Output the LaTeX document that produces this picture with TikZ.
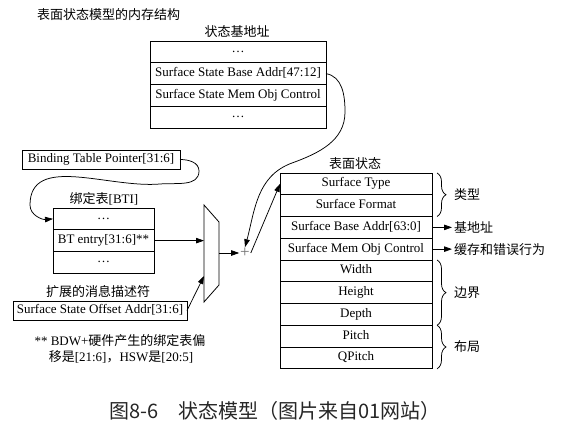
\documentclass[tikz,border=0pt]{standalone}
\usepackage{fontspec}
\setmainfont{Liberation Serif}
\newfontfamily\cjk{Noto Sans CJK SC}
\usetikzlibrary{arrows.meta,decorations.pathreplacing}
\begin{document}
\begin{tikzpicture}[x=1pt,y=1pt,
  every node/.style={inner sep=0pt, outer sep=0pt},
  txt/.style={font=\fontsize{13}{15}\selectfont},
  cjktxt/.style={font=\fontsize{13}{15}\selectfont\cjk},
  cell/.style={draw, line width=0.8pt, txt, anchor=center, minimum height=21.75pt, text height=9pt, text depth=3pt},
  dotcell/.style={draw, line width=0.8pt, txt, anchor=center, minimum height=21.75pt},
  box/.style={draw, line width=0.8pt, txt, minimum height=19pt, text height=9pt, text depth=3pt},
  arr/.style={line width=0.75pt, -{Triangle[length=8pt,width=5.5pt]}},
  brc/.style={line width=0.75pt, decorate, decoration={brace, amplitude=9pt}}
]
\useasboundingbox (0,0) rectangle (561,-428);

% main title
\node[cjktxt, anchor=west] (maintitle) at (37,-15) {表面状态模型的内存结构};

% state base address table
\node[cjktxt] (sbtitle) at (237,-32) {状态基地址};
\node[dotcell, minimum width=176pt] (sb1) at (238,-51.875) {\ldots};
\node[cell, minimum width=176pt] (sb2) at (238,-73.625) {Surface State Base Addr[47:12]};
\node[cell, minimum width=176pt] (sb3) at (238,-95.375) {Surface State Mem Obj Control};
\node[dotcell, minimum width=176pt] (sb4) at (238,-117.125) {\ldots};

% binding table pointer
\node[box, minimum width=158pt] (btp) at (101,-159.5) {Binding Table Pointer[31:6]};

% binding table
\node[txt] (btititle) at (104,-199) {{\cjk 绑定表}[BTI]};
\node[dotcell, minimum width=101pt] (bt1) at (103.5,-218.875) {\ldots};
\node[cell, minimum width=101pt] (bt2) at (103.5,-240.625) {BT entry[31:6]**};
\node[dotcell, minimum width=101pt] (bt3) at (103.5,-262.375) {\ldots};

% extended message descriptor
\node[cjktxt] (emdtitle) at (98,-292) {扩展的消息描述符};
\node[box, minimum width=174pt] (off) at (100,-310.5) {Surface State Offset Addr[31:6]};

% footnote
\node[txt] (fn1) at (120,-341) {** BDW+{\cjk 硬件产生的绑定表偏}};
\node[txt] (fn2) at (121,-357) {{\cjk 移是}[21:6]{\cjk ，}HSW{\cjk 是}[20:5]};

% mux
\coordinate (m1) at (204,-205);
\coordinate (m2) at (219,-222);
\coordinate (m3) at (219,-285);
\coordinate (m4) at (204,-302);
\draw[line width=0.8pt] (m1) -- (m2) -- (m3) -- (m4) -- cycle;
\coordinate (muxin1) at (204,-240.625);
\coordinate (muxin2) at (204,-276);
\coordinate (muxout) at (219,-253);

% plus
\node[font=\fontsize{17}{17}\selectfont, text=black!55, inner sep=1pt] (plus) at (245,-253) {+};

% surface state table
\node[cjktxt] (sstitle) at (355,-164) {表面状态};
\node[cell, minimum width=152pt] (ss1) at (356,-183.875) {Surface Type};
\node[cell, minimum width=152pt] (ss2) at (356,-205.625) {Surface Format};
\node[cell, minimum width=152pt] (ss3) at (356,-227.375) {Surface Base Addr[63:0]};
\node[cell, minimum width=152pt] (ss4) at (356,-249.125) {Surface Mem Obj Control};
\node[cell, minimum width=152pt] (ss5) at (356,-270.875) {Width};
\node[cell, minimum width=152pt] (ss6) at (356,-292.625) {Height};
\node[cell, minimum width=152pt] (ss7) at (356,-314.375) {Depth};
\node[cell, minimum width=152pt] (ss8) at (356,-336.125) {Pitch};
\node[cell, minimum width=152pt] (ss9) at (356,-357.875) {QPitch};

% braces and labels
\coordinate (b1a) at (437,-173);
\coordinate (b1b) at (437,-216.5);
\coordinate (b2a) at (437,-260);
\coordinate (b2b) at (437,-325.25);
\coordinate (b3a) at (437,-325.25);
\coordinate (b3b) at (437,-368.75);
\draw[brc] (b1a) -- (b1b);
\draw[brc] (b2a) -- (b2b);
\draw[brc] (b3a) -- (b3b);
\node[cjktxt, anchor=west] (ltype) at (454,-194.75) {类型};
\node[cjktxt, anchor=west] (lbound) at (454,-292.6) {边界};
\node[cjktxt, anchor=west] (llayout) at (454,-347) {布局};
\node[cjktxt, anchor=west, inner xsep=2pt] (lbase) at (452,-227.375) {基地址};
\node[cjktxt, anchor=west, inner xsep=2pt] (lcache) at (452,-249.125) {缓存和错误行为};
\draw[arr] (ss3.east) -- (lbase.west);
\draw[arr] (ss4.east) -- (lcache.west);

% connectors
\draw[arr] (bt2.east) -- (muxin1);
\draw[arr] (off.east) -- (muxin2);
\draw[arr] (muxout) -- (plus.west);
\draw[arr] (plus.east) -- (ss1.west);
\draw[arr] (sb2.east) to[out=-10,in=90] (345,-112) to[out=-90,in=20] (292,-163) to[out=200,in=75] (plus.north);
\draw[arr] (btp.east) to[out=0,in=90] (199,-171) to[out=-90,in=5] (160,-184) to[out=185,in=90] (30,-205) to[out=-90,in=185] (bt1.west);

% caption
\node[font=\fontsize{20}{22}\selectfont\cjk, text=black!85] (caption) at (275,-411) {图8-6　状态模型（图片来自01网站）};
\end{tikzpicture}
\end{document}
